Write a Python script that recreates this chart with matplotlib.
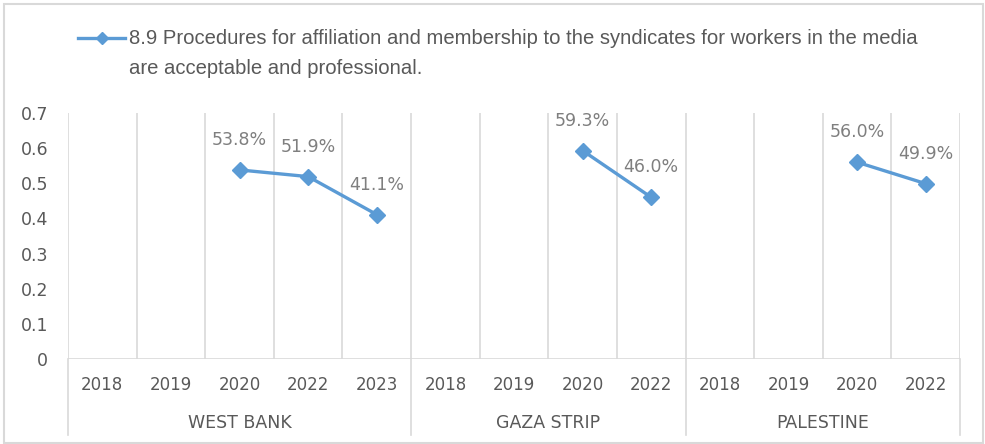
import matplotlib
matplotlib.use("Agg")
import matplotlib.pyplot as plt
from matplotlib.lines import Line2D
from matplotlib.patches import Rectangle
import matplotlib.transforms as mtransforms
import numpy as np

# Data
groups = ["WEST BANK", "GAZA STRIP", "PALESTINE"]
group_years = [["2018", "2019", "2020", "2022", "2023"],
               ["2018", "2019", "2020", "2022"],
               ["2018", "2019", "2020", "2022"]]
west_bank = [None, None, 0.538, 0.519, 0.411]
gaza_strip = [None, None, 0.593, 0.460]
palestine = [None, None, 0.560, 0.499]
series_by_group = [west_bank, gaza_strip, palestine]
series_name = ("8.9 Procedures for affiliation and membership to the syndicates for workers in the media\n"
               "are acceptable and professional.")
y_ticks = [0, 0.1, 0.2, 0.3, 0.4, 0.5, 0.6, 0.7]

W, H = 985, 444
fig = plt.figure(figsize=(W / 100, H / 100), dpi=100)
fig.patch.set_facecolor("white")

# plot area in pixel terms
left_px, right_px, top_px, bottom_px = 68, 960, 113, 359
ax = fig.add_axes([left_px / W, 1 - bottom_px / H,
                   (right_px - left_px) / W, (bottom_px - top_px) / H])

blue = "#5B9BD5"
grid_c = "#D9D9D9"
txt_c = "#595959"
lab_c = "#7F7F7F"

n_cat = sum(len(g) for g in group_years)
ax.set_xlim(0, n_cat)
ax.set_ylim(0, 0.7)
for s in ax.spines.values():
    s.set_visible(False)
ax.set_xticks([])
ax.set_yticks(y_ticks)
ax.set_yticklabels([("%g" % v) for v in y_ticks])
ax.tick_params(axis="y", length=0, pad=14.4, labelsize=12.5, labelcolor=txt_c)

# vertical gridlines at category boundaries
for b in range(n_cat + 1):
    ax.axvline(b, color=grid_c, lw=1.2, zorder=0)
ax.axhline(0, color=grid_c, lw=1.2, zorder=0)

trans = mtransforms.blended_transform_factory(ax.transData, ax.transAxes)
sep_bottom = (bottom_px - 435) / (bottom_px - top_px)
year_y = (bottom_px - 385) / (bottom_px - top_px)
grp_y = (bottom_px - 423) / (bottom_px - top_px)

start = 0
boundaries = [0]
for gname, years, vals in zip(groups, group_years, series_by_group):
    xs = np.arange(len(years)) + start + 0.5
    for x, yr in zip(xs, years):
        ax.text(x, year_y, yr, transform=trans, ha="center", va="center",
                fontsize=12, color=txt_c, clip_on=False)
    ax.text(start + len(years) / 2, grp_y, gname, transform=trans, ha="center",
            va="center", fontsize=12.5, color=txt_c, clip_on=False)
    px = [x for x, v in zip(xs, vals) if v is not None]
    py = [v for v in vals if v is not None]
    ax.plot(px, py, color=blue, lw=2.4, marker="D", markersize=8,
            zorder=3, clip_on=False)
    for x, v in zip(px, py):
        ax.annotate("%.1f%%" % (v * 100), (x, v), xytext=(0, 21.5),
                    textcoords="offset points", ha="center", va="center",
                    fontsize=12.5, color=lab_c)
    start += len(years)
    boundaries.append(start)

for b in boundaries:
    ax.plot([b, b], [0, sep_bottom], transform=trans, color=grid_c, lw=1.2,
            clip_on=False)

# legend
lx0, lx1, ly = 78, 125, 38
fig.add_artist(Line2D([lx0 / W, lx1 / W], [1 - ly / H, 1 - ly / H], color=blue, lw=2.4))
fig.add_artist(Line2D([(lx0 + lx1) / 2 / W], [1 - ly / H], color=blue, marker="D",
                      markersize=6, lw=0))
lines = series_name.split("\n")
legend_font = ["Liberation Sans Narrow", "Liberation Sans", "DejaVu Sans"]
fig.text(129 / W, 1 - ly / H, lines[0], ha="left", va="center", fontsize=14.6,
         color=txt_c, family=legend_font)
fig.text(129 / W, 1 - 68 / H, lines[1], ha="left", va="center", fontsize=14.6,
         color=txt_c, family=legend_font)

# outer chart border
fig.add_artist(Rectangle((4 / W, 1 / H), (W - 6) / W, (H - 5) / H, transform=fig.transFigure,
                         fill=False, edgecolor="#D9D9D9", lw=1.5))

fig.savefig("out.png", dpi=100)
